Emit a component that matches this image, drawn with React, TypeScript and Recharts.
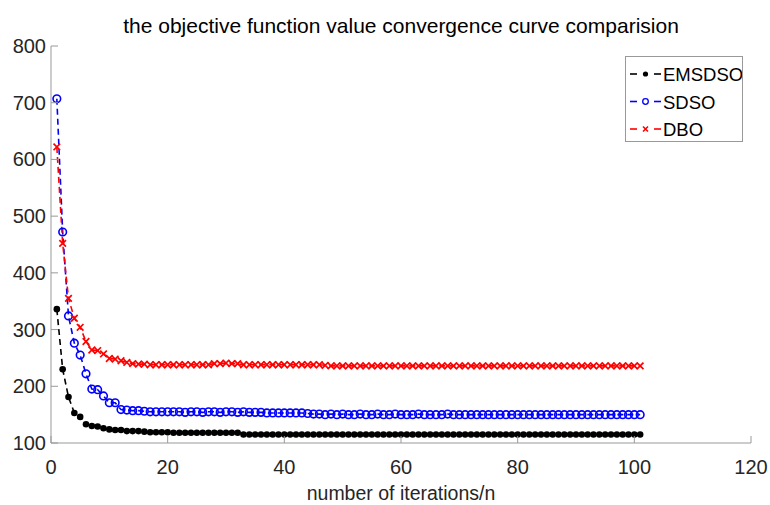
import React from 'react'
import { LineChart, Line, XAxis, YAxis, Legend } from 'recharts'

// objective value per iteration (1..101)
const emsdso = [
  336, 230, 181, 153, 146, 133, 130, 129, 126, 124,
  123, 123, 121, 121, 121, 120, 119, 119, 119, 119,
  118, 118, 118, 118, 118, 118, 118, 118, 118, 118,
  118, 118, 115, 115, 115, 115, 115, 115, 115, 115,
  115, 115, 115, 115, 115, 115, 115, 115, 115, 115,
  115, 115, 115, 115, 115, 115, 115, 115, 115, 115,
  115, 115, 115, 115, 115, 115, 115, 115, 115, 115,
  115, 115, 115, 115, 115, 115, 115, 115, 115, 115,
  115, 115, 115, 115, 115, 115, 115, 115, 115, 115,
  115, 115, 115, 115, 115, 115, 115, 115, 115, 115,
  115,
]

const sdso = [
  707, 472, 324, 276, 255, 222, 195, 194, 183, 171,
  171, 159, 158, 157, 157, 156, 155, 155, 155, 155,
  155, 155, 154, 155, 155, 154, 155, 155, 154, 155,
  155, 154, 155, 154, 154, 154, 153, 153, 153, 153,
  153, 153, 153, 152, 151, 151, 150, 151, 150, 151,
  150, 150, 151, 150, 150, 151, 150, 150, 151, 150,
  150, 150, 151, 150, 150, 150, 150, 151, 150, 150,
  150, 150, 150, 150, 150, 150, 150, 150, 150, 150,
  150, 150, 150, 150, 150, 150, 150, 150, 150, 150,
  150, 150, 150, 150, 150, 150, 150, 150, 150, 150,
  150,
]

const dbo = [
  622, 452, 355, 320, 304, 279, 264, 263, 257, 249,
  248, 245, 242, 240, 239, 239, 238, 238, 238, 238,
  238, 238, 238, 238, 238, 238, 238, 240, 240, 241,
  240, 240, 238, 238, 238, 238, 238, 238, 238, 238,
  238, 238, 238, 238, 238, 238, 237, 236, 236, 236,
  236, 236, 236, 236, 236, 236, 236, 236, 236, 236,
  236, 236, 236, 236, 236, 236, 236, 236, 236, 236,
  236, 236, 236, 236, 236, 236, 236, 236, 236, 236,
  236, 236, 236, 236, 236, 236, 236, 236, 236, 236,
  236, 236, 236, 236, 236, 236, 236, 236, 236, 236,
  236,
]

const xTicks = [0, 20, 40, 60, 80, 100, 120]
const yTicks = [100, 200, 300, 400, 500, 600, 700, 800]

const data = emsdso.map((v, i) => ({ iter: i + 1, EMSDSO: v, SDSO: sdso[i], DBO: dbo[i] }))

const FONT = '"Liberation Sans", Arial, Helvetica, sans-serif'
const AXIS = '#999'
const TEXT = '#262626'

const BlackDot = (p: any) => <circle key={p.index} cx={p.cx} cy={p.cy} r={3.3} fill="#000" />
const BlueDot = (p: any) => (
  <circle key={p.index} cx={p.cx} cy={p.cy} r={3.8} fill="none" stroke="#0000ff" strokeWidth={1.6} />
)
const RedDot = (p: any) => (
  <path
    key={p.index}
    d={`M${p.cx - 3.3},${p.cy - 3.3}L${p.cx + 3.3},${p.cy + 3.3}M${p.cx - 3.3},${p.cy + 3.3}L${p.cx + 3.3},${p.cy - 3.3}`}
    stroke="#ff0000"
    strokeWidth={1.7}
    fill="none"
  />
)

const YTick = ({ x, y, payload }: any) => (
  <g>
    <line x1={x} x2={x + 7} y1={y} y2={y} stroke={AXIS} />
    <text x={x - 5} y={y + 7} textAnchor="end" fontSize={20} fontFamily={FONT} fill={TEXT}>
      {payload.value}
    </text>
  </g>
)

const XTick = ({ x, y, payload }: any) => (
  <g>
    <line x1={x} x2={x} y1={y} y2={y - 7} stroke={AXIS} />
    <text x={x} y={y + 31} textAnchor="middle" fontSize={20} fontFamily={FONT} fill={TEXT}>
      {payload.value}
    </text>
  </g>
)

const legendItems = [
  { name: 'EMSDSO', color: '#000' },
  { name: 'SDSO', color: '#0000ff' },
  { name: 'DBO', color: '#ff0000' },
]

const marker = (name: string, cx: number, cy: number) => {
  if (name === 'EMSDSO') return <circle cx={cx} cy={cy} r={2.6} fill="#000" />
  if (name === 'SDSO') return <circle cx={cx} cy={cy} r={2.8} fill="none" stroke="#0000ff" strokeWidth={1.3} />
  return (
    <path
      d={`M${cx - 2.5},${cy - 2.5}L${cx + 2.5},${cy + 2.5}M${cx - 2.5},${cy + 2.5}L${cx + 2.5},${cy - 2.5}`}
      stroke="#ff0000"
      strokeWidth={1.6}
    />
  )
}

const LegendBox = () => (
  <div style={{ width: 116, height: 84, border: '1px solid #999', background: '#fff' }}>
    <svg width={116} height={84}>
      {legendItems.map((it, i) => {
        const cy = 17 + i * 27.5
        return (
          <g key={it.name}>
            <line x1={4} x2={11} y1={cy} y2={cy} stroke={it.color} strokeWidth={1.6} />
            <line x1={28} x2={35} y1={cy} y2={cy} stroke={it.color} strokeWidth={1.6} />
            {marker(it.name, 19.5, cy)}
            <text x={37} y={cy + 7} fontSize={18.5} fontFamily={FONT} fill="#000">
              {it.name}
            </text>
          </g>
        )
      })}
    </svg>
  </div>
)

export default function App() {
  return (
    <div style={{ position: 'absolute', left: 0, top: 0, width: 770, height: 505, background: '#fff' }}>
      <LineChart width={770} height={505} data={data} margin={{ top: 46, right: 19, bottom: 0, left: 0 }}>
        <XAxis
          dataKey="iter"
          type="number"
          domain={[0, 120]}
          ticks={xTicks}
          height={62}
          tickSize={0}
          tickMargin={0}
          tickLine={false}
          axisLine={{ stroke: AXIS }}
          tick={XTick}
          label={{
            content: ({ viewBox }: any) => (
              <text
                x={viewBox.x + viewBox.width / 2}
                y={500}
                textAnchor="middle"
                fontSize={19.5}
                fontFamily={FONT}
                fill={TEXT}
              >
                number of iterations/n
              </text>
            ),
          }}
        />
        <YAxis
          type="number"
          domain={[100, 800]}
          ticks={yTicks}
          width={51}
          tickSize={0}
          tickMargin={0}
          tickLine={false}
          axisLine={{ stroke: AXIS }}
          tick={YTick}
        />
        <Legend
          layout="horizontal"
          verticalAlign="middle"
          align="center"
          content={LegendBox}
          wrapperStyle={{ position: 'absolute', left: 625, top: 56, width: 118 }}
        />
        <Line
          type="linear"
          dataKey="EMSDSO"
          stroke="#000"
          strokeWidth={1.6}
          strokeDasharray="6 4"
          dot={BlackDot}
          activeDot={false}
          isAnimationActive={false}
        />
        <Line
          type="linear"
          dataKey="SDSO"
          stroke="#0000ff"
          strokeWidth={1.6}
          strokeDasharray="6 4"
          dot={BlueDot}
          activeDot={false}
          isAnimationActive={false}
        />
        <Line
          type="linear"
          dataKey="DBO"
          stroke="#ff0000"
          strokeWidth={1.6}
          strokeDasharray="6 4"
          dot={RedDot}
          activeDot={false}
          isAnimationActive={false}
        />
      </LineChart>
      <svg width={770} height={45} style={{ position: 'absolute', left: 0, top: 0, pointerEvents: 'none' }}>
        <text x={401} y={33} textAnchor="middle" fontSize={21} fontFamily={FONT} fill="#000">
          the objective function value convergence curve comparision
        </text>
      </svg>
    </div>
  )
}
